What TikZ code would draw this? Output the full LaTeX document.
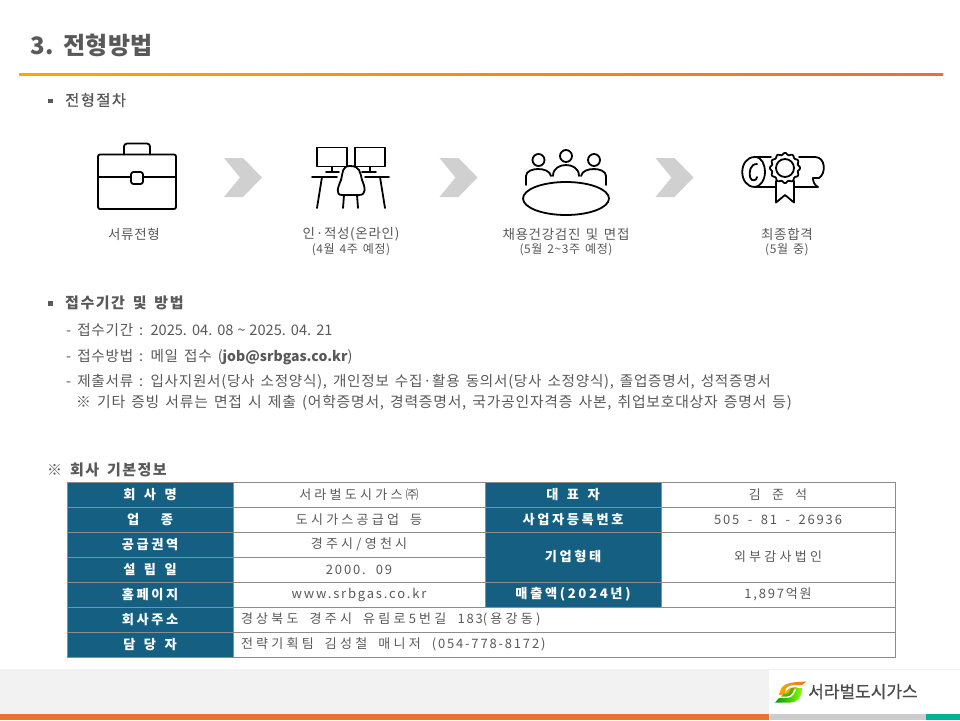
\documentclass[tikz,border=0pt]{standalone}
\usepackage{fontspec}
\setmainfont{Noto Sans CJK KR}
\newfontfamily\krbody[LetterSpace=5,WordSpace=1.5]{Noto Sans CJK KR}
\newfontfamily\krnum[WordSpace=1.2]{Noto Sans CJK KR}
\newfontfamily\krsemi[LetterSpace=9,WordSpace=1.6,FakeBold=0.5]{Noto Sans CJK KR}
\newfontfamily\krbold[LetterSpace=10,WordSpace=1.6]{Noto Sans CJK KR}
\newfontfamily\krtitle[LetterSpace=1.5,WordSpace=1.3]{Noto Sans CJK KR}
\newfontfamily\krhead[LetterSpace=20,WordSpace=1.5]{Noto Sans CJK KR}
\newfontfamily\krcell[LetterSpace=25,WordSpace=1.8]{Noto Sans CJK KR}
\newfontfamily\krcellnum[LetterSpace=14,WordSpace=1.8]{Noto Sans CJK KR}
\newfontfamily\krlogo[FakeBold=0.6]{Noto Sans CJK KR}
\definecolor{txtgray}{HTML}{595959}
\definecolor{headblue}{HTML}{156082}
\definecolor{cellline}{HTML}{8C8C8C}
\definecolor{chevgray}{HTML}{D0D0D0}
\definecolor{footorange}{HTML}{E97132}
\definecolor{footteal}{HTML}{00B294}
\tikzset{
  txt/.style={anchor=west,inner sep=0pt,text=txtgray,font=\fontsize{14.6}{16}\krbody},
  caption/.style={inner sep=0pt,text=txtgray,font=\fontsize{13.5}{14}\krbody},
  subcaption/.style={inner sep=0pt,text=txtgray,font=\fontsize{12}{13}\krbody},
  headline/.style={anchor=west,inner sep=0pt,text=txtgray,font=\fontsize{15}{17}\krbold\bfseries},
  headcell/.style={draw=cellline,fill=headblue,line width=0.9pt,inner sep=0pt,text=white,font=\fontsize{13.2}{14}\krhead\bfseries},
  datacell/.style={draw=cellline,fill=white,line width=0.9pt,inner sep=0pt,text=txtgray,font=\fontsize{13}{14}\krcell},
  icon/.style={line width=1.8pt,draw=black,line join=round,line cap=round},
  chevron/.style={fill=chevgray,draw=none},
}
\begin{document}
\begin{tikzpicture}[x=1pt,y=-1pt]
\useasboundingbox (0,0) rectangle (960,720);
\fill[white] (0,0) rectangle (960,720);
% title
\node[anchor=west,inner sep=0pt,text=txtgray,font=\fontsize{24}{26}\krtitle\bfseries] (title) at (30,45) {3. 전형방법};
\shade[left color=orange!70!yellow,right color=footorange] (19,73) rectangle (943,75);
% procedure
\fill[txtgray] (48,98.5) rectangle (52.5,103);
\node[headline,font=\fontsize{15.4}{17}\krsemi] (procedure) at (65,100) {전형절차};
% briefcase
\draw[icon,rounded corners=2pt] (98,154.5) rectangle (176,209);
\draw[icon,rounded corners=3pt] (124,154.5) -- (124,143.5) -- (150,143.5) -- (150,154.5);
\draw[icon] (98,177) -- (131,177);
\draw[icon] (143,177) -- (176,177);
\draw[icon,rounded corners=2.5pt] (131,172) -- (131,184) -- (143,184) -- (143,172) -- cycle;
% desks
\draw[icon] (317,147.5) rectangle (347,166.5);
\draw[icon] (355,147.5) rectangle (385,166.5);
\draw[icon] (332,167) -- (332,172) (326,172) -- (339,172);
\draw[icon] (370,167) -- (370,172) (362,172) -- (376,172);
\draw[icon] (312,177) -- (337,177) (365,177) -- (389,177);
\draw[icon] (322,177) -- (317,208) (380,177) -- (385,208);
\draw[icon] (350,166) .. controls (342,166) and (343,172) .. (341,180) .. controls (338,187) and (335,195) .. (342,195) -- (359,195) .. controls (367,195) and (365,187) .. (362,180) .. controls (360,172) and (360,166) .. (350,166) -- cycle;
\draw[icon] (344,195) -- (343,208) (357,195) -- (358,208);
% meeting
\draw[icon] (566,198.5) ellipse [x radius=43,y radius=16.5];
\draw[icon] (538.5,160) circle [radius=6];
\draw[icon] (566,156) circle [radius=6];
\draw[icon] (594,160) circle [radius=6];
\draw[icon] (526,185) -- (526,176) .. controls (526,171) and (533,169) .. (538,169) .. controls (544,169) and (550,171) .. (551,176);
\draw[icon] (553,176) .. controls (553,168) and (560,165) .. (566,165) .. controls (572,165) and (579,168) .. (579,176);
\draw[icon] (606,185) -- (606,176) .. controls (606,171) and (599,169) .. (594,169) .. controls (588,169) and (582,171) .. (581,176);
% diploma
\draw[icon] (771,157) -- (755,157) .. controls (738,157) and (738,187) .. (755,187) -- (776,187);
\draw[icon] (755,157) .. controls (762,157) and (765,165) .. (765,172) .. controls (765,180) and (760,187) .. (755,187);
\draw[icon] (757,164) .. controls (750,164) and (749,172) .. (750,177) .. controls (751,182) and (757,181) .. (757,177);
\draw[icon] (799,157) -- (815,157) .. controls (826,157) and (826,174) .. (819,178) -- (813,178);
\draw[icon] (794,187) -- (818,187) .. controls (814,185) and (813,181) .. (813,178);
\draw[icon] plot[domain=0:360,samples=121] ([shift={(785,168)}]\x:{14.2+0.9*cos(12*\x)}) -- cycle;
\draw[icon] (785,168) circle [radius=9];
\draw[icon] (776,181) -- (776,202.5) -- (785,195) -- (794,202.5) -- (794,181);
% chevrons
\fill[chevron] (224,158) -- (243,158) -- (262,177.5) -- (243,197) -- (224,197) -- (240,177.5) -- cycle;
\fill[chevron] (439.5,158) -- (458.5,158) -- (477.5,177.5) -- (458.5,197) -- (439.5,197) -- (455.5,177.5) -- cycle;
\fill[chevron] (655.5,158) -- (674.5,158) -- (693.5,177.5) -- (674.5,197) -- (655.5,197) -- (671.5,177.5) -- cycle;
% captions
\node[caption] (step1) at (134,234) {서류전형};
\node[caption] (step2) at (351,234) {인·적성(온라인)};
\node[subcaption] (step2sub) at (351,250) {(4월 4주 예정)};
\node[caption] (step3) at (566,234) {채용건강검진 및 면접};
\node[subcaption] (step3sub) at (566,250) {(5월 2\textasciitilde3주 예정)};
\node[caption] (step4) at (787,234) {최종합격};
\node[subcaption] (step4sub) at (787,250) {(5월 중)};
% period and method
\fill[txtgray] (48,301) rectangle (52.5,305.5);
\node[headline] (period) at (65,303) {접수기간 및 방법};
\node[txt] (line1) at (66,330) {- 접수기간 : {\krnum 2025. 04. 08 \textasciitilde{} 2025. 04. 21}};
\node[txt] (line2) at (66,357) {- 접수방법 : 메일 접수 ({\fontsize{14}{16}\selectfont\rmfamily\bfseries job@srbgas.co.kr})};
\node[txt] (line3) at (66,382) {- 제출서류 : 입사지원서(당사 소정양식), 개인정보 수집·활용 동의서(당사 소정양식), 졸업증명서, 성적증명서};
\node[txt,font=\fontsize{14.85}{16}\krbody] (line4) at (76,403) {※ 기타 증빙 서류는 면접 시 제출 (어학증명서, 경력증명서, 국가공인자격증 사본, 취업보호대상자 증명서 등)};
% company table
\node[headline] (company) at (47,470) {※ 회사 기본정보};
\node[headcell,minimum width=166pt,minimum height=25pt] (h1) at (150,494.5) {회 사 명};
\node[headcell,minimum width=166pt,minimum height=25pt] (h2) at (150,519.5) {업 \quad 종};
\node[headcell,minimum width=166pt,minimum height=25pt] (h3) at (150,544.5) {공급권역};
\node[headcell,minimum width=166pt,minimum height=25pt] (h4) at (150,569.5) {설 립 일};
\node[headcell,minimum width=166pt,minimum height=25pt] (h5) at (150,594.5) {홈페이지};
\node[headcell,minimum width=166pt,minimum height=25pt] (h6) at (150,619.5) {회사주소};
\node[headcell,minimum width=166pt,minimum height=25pt] (h7) at (150,644.5) {담 당 자};
\node[datacell,minimum width=252pt,minimum height=25pt] (d1) at (359,494.5) {서라벌도시가스㈜};
\node[datacell,minimum width=252pt,minimum height=25pt] (d2) at (359,519.5) {도시가스공급업 등};
\node[datacell,minimum width=252pt,minimum height=25pt] (d3) at (359,544.5) {경주시/영천시};
\node[datacell,minimum width=252pt,minimum height=25pt,font=\fontsize{13}{14}\krcellnum] (d4) at (359,569.5) {2000. 09};
\node[datacell,minimum width=252pt,minimum height=25pt,font=\fontsize{13}{14}\krcellnum] (d5) at (359,594.5) {www.srbgas.co.kr};
\node[headcell,minimum width=176pt,minimum height=25pt] (h8) at (573,494.5) {대 표 자};
\node[headcell,minimum width=176pt,minimum height=25pt] (h9) at (573,519.5) {사업자등록번호};
\node[headcell,minimum width=176pt,minimum height=50pt] (h10) at (573,557) {기업형태};
\node[headcell,minimum width=176pt,minimum height=25pt] (h11) at (573,594.5) {매출액(2024년)};
\node[datacell,minimum width=234pt,minimum height=25pt] (d8) at (778,494.5) {김 준 석};
\node[datacell,minimum width=234pt,minimum height=25pt,font=\fontsize{13}{14}\krcellnum] (d9) at (778,519.5) {505 - 81 - 26936};
\node[datacell,minimum width=234pt,minimum height=50pt] (d10) at (778,557) {외부감사법인};
\node[datacell,minimum width=234pt,minimum height=25pt,font=\fontsize{13}{14}\krcellnum] (d11) at (778,594.5) {1,897억원};
\node[datacell,minimum width=662pt,minimum height=25pt] (d6) at (564,619.5) {\makebox[646pt][l]{경상북도 경주시 유림로5번길 {\krcellnum 183}(용강동)}};
\node[datacell,minimum width=662pt,minimum height=25pt] (d7) at (564,644.5) {\makebox[646pt][l]{전략기획팀 김성철 매니저 {\krcellnum (054-778-8172)}}};
% footer
\fill[black!5] (0,669) rectangle (769,714);
\fill[footorange] (0,714) rectangle (769,720);
\fill[black!20] (770,714) rectangle (926,720);
\fill[footteal] (926,714) rectangle (960,720);
\fill[black!5] (769,669) rectangle (960,670);
% logo
\shade[left color=orange!70!yellow,right color=footorange] (779.5,695) .. controls (780,685) and (786,681.7) .. (806,681.7) -- (802,685) -- (795,685) .. controls (788,685) and (785,688) .. (785,692) -- (786,695) -- cycle;
\shade[left color=green!60!black,right color=green!50!yellow] (775,702.7) -- (790,702.7) .. controls (797,702.7) and (802,697) .. (802,688) -- (796,688) .. controls (796,692) and (793,698) .. (787,698) -- (779,698) -- cycle;
\fill[orange!70!yellow] (785,695) .. controls (786,689) and (790,687) .. (797,687) -- (795,689.5) .. controls (792,689.5) and (790,691) .. (790,695) -- cycle;
\fill[green!60!black!70!yellow] (781,696.5) -- (787,696.5) .. controls (791,696.5) and (794,692) .. (794,688) -- (791,688) .. controls (791,691) and (789,694) .. (784,694) -- cycle;
\node[anchor=west,inner sep=0pt,text=black!70,font=\fontsize{17}{20}\krlogo] (logotext) at (808,691.5) {서라벌도시가스};
\end{tikzpicture}
\end{document}
